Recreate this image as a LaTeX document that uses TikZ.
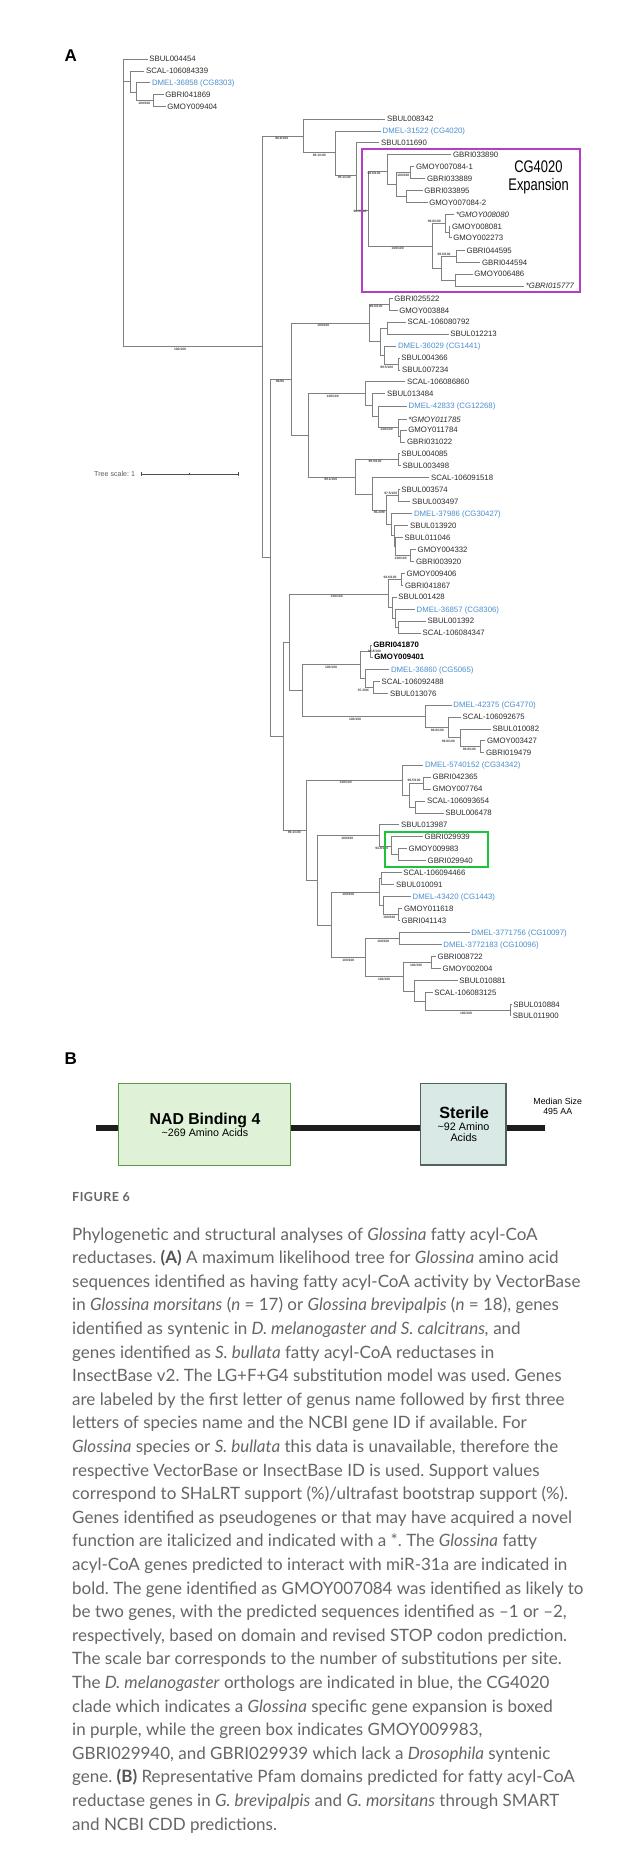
\documentclass[tikz,border=0pt]{standalone}
\usepackage{fontspec}
\setmainfont{Liberation Sans}
\newfontfamily\capfont{Lato}
\newfontfamily\narrowfont{Liberation Sans}[FakeStretch=0.77]
\frenchspacing
\definecolor{brc}{HTML}{808080}
\definecolor{tipc}{HTML}{2B2B2B}
\definecolor{dmel}{HTML}{4A8FCF}
\definecolor{purp}{HTML}{B23FC4}
\definecolor{grn}{HTML}{1DC43A}
\definecolor{capc}{HTML}{666666}
\definecolor{capd}{HTML}{555555}
\definecolor{nadfill}{HTML}{DFF2D7}
\definecolor{nadline}{HTML}{5B9A46}
\definecolor{stfill}{HTML}{D9E9E5}
\definecolor{stline}{HTML}{50645E}
\definecolor{barc}{HTML}{1E1E1E}
\tikzset{
 br/.style={draw=brc, line width=0.75pt},
 tip/.style={anchor=west, inner xsep=1.7pt, inner ysep=0pt, text height=5.6pt, text depth=0pt, font=\fontsize{7.8}{8}\selectfont, text=tipc},
 tipb/.style={tip, text=dmel},
 tipi/.style={tip, font=\fontsize{7.8}{8}\selectfont\itshape},
 tipbf/.style={tip, font=\fontsize{7.8}{8}\selectfont\bfseries, text=black},
 bs/.style={inner sep=0pt, font=\fontsize{3.3}{3.5}\selectfont\bfseries, text=black!75},
 capl/.style={anchor=base west, inner sep=0pt, font=\capfont\fontsize{17}{19}\selectfont\frenchspacing, text=capc},
 panel/.style={anchor=base west, inner sep=0pt, font=\fontsize{17}{18}\selectfont\bfseries, text=black},
 dombox/.style={draw, line width=1.2pt, minimum height=81.6pt, inner sep=0pt},
 domtxt/.style={anchor=base, inner sep=0pt, text=black},
}
\newcommand{\tleaf}[6]{\node[#1] (#2) at (#4,#5) {#6}; \draw[br] (#3) |- (#2.west);}
\newcommand{\tnode}[4]{\coordinate (#1) at (#3,#4); \draw[br] (#2) |- (#1);}
\newcommand{\bsl}[4]{\node[bs] (#1) at (#2,#3) {#4};}
\begin{document}
\begin{tikzpicture}[x=1pt,y=-1pt]
\useasboundingbox (0,0) rectangle (644,1854);
\fill[white] (0,0) rectangle (644,1854);
% ---------- panel A ----------
\node[panel] (pA) at (64.5,61.7) {A};
\coordinate (R) at (123.3,81.7);
\tleaf{tip}{t1}{R}{147.5}{59}{SBUL004454}
\tnode{na}{R}{130.7}{81.7}
\tleaf{tip}{t2}{na}{144.2}{71}{SCAL-106084339}
\tnode{nb}{na}{136}{92.3}
\tleaf{tipb}{t3}{nb}{150.2}{82.7}{DMEL-36858 (CG8303)}
\tnode{nc}{nb}{153.3}{100.5}
\tleaf{tip}{t4}{nc}{163.5}{94.3}{GBRI041869}
\tleaf{tip}{t5}{nc}{165.5}{106.7}{GMOY009404}
\tnode{nd}{R}{262.3}{346.7}
\tnode{ne}{nd}{303.3}{136}
\tleaf{tip}{t6}{ne}{385.2}{119}{SBUL008342}
\tnode{nf}{ne}{335.7}{152.7}
\tleaf{tipb}{t7}{nf}{380.8}{131}{DMEL-31522 (CG4020)}
\tnode{ng}{nf}{356.7}{175.7}
\tleaf{tip}{t8}{ng}{379.2}{142.7}{SBUL011690}
\tnode{E}{ng}{368.3}{210}
\tnode{U}{E}{387.7}{171}
\tleaf{tip}{t9}{U}{451.2}{154.3}{GBRI033890}
\tnode{V}{U}{396.7}{184.3}
\tnode{W}{V}{410}{172.7}
\tleaf{tip}{t10}{W}{414.2}{166.7}{GMOY007084-1}
\tleaf{tip}{t11}{W}{425.2}{178.7}{GBRI033889}
\tnode{X}{V}{406}{196.3}
\tleaf{tip}{t12}{X}{422.5}{190.3}{GBRI033895}
\tleaf{tip}{t13}{X}{427.5}{202.3}{GMOY007084-2}
\tnode{L}{E}{432.7}{246}
\tnode{Y}{L}{445.7}{223.3}
\tleaf{tipi}{t14}{Y}{454.2}{214.3}{*GMOY008080}
\tnode{Yb}{Y}{449}{232}
\tleaf{tip}{t15}{Yb}{450.2}{226.3}{GMOY008081}
\tleaf{tip}{t16}{Yb}{451.5}{237.7}{GMOY002273}
\tnode{Z}{L}{441.7}{268.3}
\tnode{Za}{Z}{456.7}{256.3}
\tleaf{tip}{t17}{Za}{464.8}{250.3}{GBRI044595}
\tleaf{tip}{t18}{Za}{480.2}{262.3}{GBRI044594}
\tnode{Zb}{Z}{455}{280}
\tleaf{tip}{t19}{Zb}{472.5}{274}{GMOY006486}
\tleaf{tipi}{t20}{Zb}{524}{286}{*GBRI015777}
% lower big clade
\tnode{nh}{nd}{270.3}{557.3}
\tnode{ni}{nh}{291.3}{379}
\tnode{C1}{ni}{369}{323.3}
\tnode{n1a}{C1}{389.3}{304.3}
\tleaf{tip}{t21}{n1a}{392.5}{298.3}{GBRI025522}
\tleaf{tip}{t22}{n1a}{397.5}{310.3}{GMOY003884}
\tnode{n1b}{C1}{380}{341.5}
\tnode{n1c}{n1b}{387.3}{328}
\tleaf{tip}{t23}{n1c}{405.8}{322}{SCAL-106080792}
\tleaf{tip}{t24}{n1c}{448.5}{334}{SBUL012213}
\tnode{n1d}{n1b}{384}{355}
\tleaf{tipb}{t25}{n1d}{396.2}{346}{DMEL-36029 (CG1441)}
\tnode{n1e}{n1d}{398.3}{364}
\tleaf{tip}{t26}{n1e}{399.5}{358}{SBUL004366}
\tleaf{tip}{t27}{n1e}{400.2}{370}{SBUL007234}
\tnode{nj}{ni}{308.3}{435}
\tnode{C2}{nj}{365.7}{393.5}
\tleaf{tip}{t28}{C2}{405.2}{381.7}{SCAL-106086860}
\tnode{n2a}{C2}{372.3}{405.3}
\tleaf{tip}{t29}{n2a}{385.2}{393.7}{SBUL013484}
\tnode{n2b}{n2a}{378.3}{416.8}
\tleaf{tipb}{t30}{n2b}{406.8}{406}{DMEL-42833 (CG12268)}
\tnode{n2c}{n2b}{398.3}{427.7}
\tleaf{tipi}{t31}{n2c}{406.5}{419.3}{*GMOY011785}
\tnode{n2d}{n2c}{400.7}{436}
\tleaf{tip}{t32}{n2d}{406.5}{430}{GMOY011784}
\tleaf{tip}{t33}{n2d}{405.2}{442}{GBRI031022}
\tnode{C3}{nj}{355}{477.3}
\tnode{n3a}{C3}{398.3}{459.7}
\tleaf{tip}{t34}{n3a}{399.5}{453.7}{SBUL004085}
\tleaf{tip}{t35}{n3a}{400.8}{465.7}{SBUL003498}
\tnode{n3b}{C3}{372.3}{494.3}
\tleaf{tip}{t36}{n3b}{429.2}{477.3}{SCAL-106091518}
\tnode{n3c}{n3b}{386.7}{510}
\tnode{n3d}{n3c}{398.3}{495.5}
\tleaf{tip}{t37}{n3d}{399.5}{489.3}{SBUL003574}
\tleaf{tip}{t38}{n3d}{410.2}{501.7}{SBUL003497}
\tnode{n3e}{n3c}{391}{524.6}
\tleaf{tipb}{t39}{n3e}{412.2}{513.3}{DMEL-37986 (CG30427)}
\tnode{n3f}{n3e}{394}{535.8}
\tleaf{tip}{t40}{n3f}{408.2}{525.3}{SBUL013920}
\tnode{n3g}{n3f}{395.7}{546.3}
\tleaf{tip}{t41}{n3g}{402.8}{537.3}{SBUL011046}
\tnode{n3h}{n3g}{410}{555.3}
\tleaf{tip}{t42}{n3h}{415.8}{549.3}{GMOY004332}
\tleaf{tip}{t43}{n3h}{414.2}{561.3}{GBRI003920}
\tnode{nk}{nh}{283.3}{736.3}
\tnode{nl}{nk}{289.3}{642.3}
\tnode{n4}{nl}{388.3}{594}
\tnode{n4a}{n4}{401}{579.3}
\tleaf{tip}{t44}{n4a}{404.8}{573.3}{GMOY009406}
\tleaf{tip}{t45}{n4a}{403.2}{585.3}{GBRI041867}
\tnode{n4b}{n4}{392.3}{607.6}
\tleaf{tip}{t46}{n4b}{396.5}{597}{SBUL001428}
\tnode{n4c}{n4b}{395.7}{618.2}
\tleaf{tipb}{t47}{n4c}{414.8}{609.3}{DMEL-36857 (CG8306)}
\tnode{n4d}{n4c}{398.3}{627}
\tleaf{tip}{t48}{n4d}{425.8}{621}{SBUL001392}
\tleaf{tip}{t49}{n4d}{420.8}{633}{SCAL-106084347}
\tnode{nm}{nl}{302.3}{690.7}
\tnode{n5}{nm}{360}{664.7}
\tnode{n5a}{n5}{370.7}{651}
\tleaf{tipbf}{t50}{n5a}{371.5}{645}{GBRI041870}
\tleaf{tipbf}{t51}{n5a}{372.5}{657}{GMOY009401}
\tnode{n5b}{n5}{365.7}{678.3}
\tleaf{tipb}{t52}{n5b}{389.2}{669.3}{DMEL-36860 (CG5065)}
\tnode{n5c}{n5b}{373.3}{687.3}
\tleaf{tip}{t53}{n5c}{379.8}{681.3}{SCAL-106092488}
\tleaf{tip}{t54}{n5c}{388.2}{693.3}{SBUL013076}
\tnode{n6}{nm}{425.7}{716.3}
\tleaf{tipb}{t55}{n6}{451.5}{705}{DMEL-42375 (CG4770)}
\tnode{n6a}{n6}{448.3}{727.4}
\tleaf{tip}{t56}{n6a}{460.8}{717}{SCAL-106092675}
\tnode{n6b}{n6a}{460.7}{737.8}
\tleaf{tip}{t57}{n6b}{490.8}{729}{SBUL010082}
\tnode{n6c}{n6b}{480.7}{746.7}
\tleaf{tip}{t58}{n6c}{485.2}{740.7}{GMOY003427}
\tleaf{tip}{t59}{n6c}{484.2}{752.7}{GBRI019479}
\tnode{nn}{nk}{306}{830}
\tnode{n7}{nn}{402.3}{780.7}
\tleaf{tipb}{t60}{n7}{423.2}{765}{DMEL-5740152 (CG34342)}
\tnode{n7a}{n7}{409.3}{795}
\tnode{n7b}{n7a}{423.3}{783}
\tleaf{tip}{t61}{n7b}{430.8}{777}{GBRI042365}
\tleaf{tip}{t62}{n7b}{430.8}{789}{GMOY007764}
\tnode{n7c}{n7a}{415}{807}
\tleaf{tip}{t63}{n7c}{425.2}{801}{SCAL-106093654}
\tleaf{tip}{t64}{n7c}{443.5}{813}{SBUL006478}
\tnode{no}{nn}{317.7}{880}
\tnode{n8}{no}{379}{835.7}
\tleaf{tip}{t65}{n8}{399.2}{824.7}{SBUL013987}
\tnode{n8a}{n8}{391.7}{846}
\tleaf{tip}{t66}{n8a}{422.8}{836.7}{GBRI029939}
\tnode{n8b}{n8a}{398.3}{854.7}
\tleaf{tip}{t67}{n8b}{406.8}{848.7}{GMOY009983}
\tleaf{tip}{t68}{n8b}{425.8}{860.7}{GBRI029940}
\tnode{np}{no}{331.7}{925}
\tnode{n9}{np}{379}{892.2}
\tnode{n9a}{n9}{381.7}{878.7}
\tleaf{tip}{t69}{n9a}{401.5}{872.7}{SCAL-106094466}
\tleaf{tip}{t70}{n9a}{394.2}{884.7}{SBUL010091}
\tnode{n9b}{n9}{383.3}{905.7}
\tleaf{tipb}{t71}{n9b}{410.8}{896.7}{DMEL-43420 (CG1443)}
\tnode{n9c}{n9b}{398.3}{914.7}
\tleaf{tip}{t72}{n9c}{402.2}{908.7}{GMOY011618}
\tleaf{tip}{t73}{n9c}{399.8}{920.7}{GBRI041143}
\tnode{n10}{np}{365}{957.3}
\tnode{n10a}{n10}{399.3}{938.3}
\tleaf{tipb}{t74}{n10a}{469.5}{932.3}{DMEL-3771756 (CG10097)}
\tleaf{tipb}{t75}{n10a}{441.5}{944.3}{DMEL-3772183 (CG10096)}
\tnode{n11}{n10}{403.3}{976.7}
\tnode{n11a}{n11}{431.7}{962.7}
\tleaf{tip}{t76}{n11a}{435.8}{956.7}{GBRI008722}
\tleaf{tip}{t77}{n11a}{440.8}{968.7}{GMOY002004}
\tnode{n11b}{n11}{414.3}{991}
\tleaf{tip}{t78}{n11b}{457.5}{980.7}{SBUL010881}
\tnode{n11c}{n11b}{425}{1001.5}
\tleaf{tip}{t79}{n11c}{432.5}{992.7}{SCAL-106083125}
\tnode{n11d}{n11c}{510}{1010.2}
\tleaf{tip}{t80}{n11d}{511.5}{1004.7}{SBUL010884}
\tleaf{tip}{t81}{n11d}{511}{1015.7}{SBUL011900}
% support values
\bsl{s1}{144.3}{103.3}{100/100}
\bsl{s2}{281.7}{138.3}{98.6/100}
\bsl{s3}{319.3}{155.3}{98.1/100}
\bsl{s4}{344.3}{177.3}{99.1/100}
\bsl{s5}{360}{211}{96.3/100}
\bsl{s6}{374}{173.5}{99.6/100}
\bsl{s7}{403.3}{175.3}{100/100}
\bsl{s8}{397.7}{248.7}{100/100}
\bsl{s9}{434.3}{221}{99.8/100}
\bsl{s10}{444}{254}{99.8/100}
\bsl{s11}{180}{349.7}{100/100}
\bsl{s12}{280}{381.7}{96/96}
\bsl{s13}{323.3}{325.7}{100/100}
\bsl{s14}{376}{306}{99.8/100}
\bsl{s15}{386.7}{367}{99.5/100}
\bsl{s16}{332.7}{396}{100/100}
\bsl{s17}{386.7}{429}{100/100}
\bsl{s18}{330.7}{479.3}{99.1/100}
\bsl{s19}{375}{461.7}{99.9/100}
\bsl{s20}{379.3}{512.3}{96.2/99}
\bsl{s21}{390.7}{493.7}{97.5/100}
\bsl{s22}{400.7}{558.7}{100/100}
\bsl{s23}{336.7}{596.3}{100/100}
\bsl{s24}{390}{577.3}{94.6/100}
\bsl{s25}{331}{667}{100/100}
\bsl{s26}{374.5}{651}{94.8/100}
\bsl{s27}{363.3}{690}{97.3/94}
\bsl{s28}{355}{719}{100/100}
\bsl{s29}{437.3}{730}{99.8/100}
\bsl{s30}{448.3}{741}{99.6/100}
\bsl{s31}{469.3}{749.3}{99.8/100}
\bsl{s32}{294.3}{832.3}{99.1/100}
\bsl{s33}{345.7}{782.3}{100/100}
\bsl{s34}{414}{780.7}{99.5/100}
\bsl{s35}{347.3}{838.3}{100/100}
\bsl{s36}{381.7}{848.3}{94.9/100}
\bsl{s37}{348.3}{894.3}{100/100}
\bsl{s38}{389.3}{917.3}{100/100}
\bsl{s39}{348.3}{960.7}{100/100}
\bsl{s40}{383.3}{941}{100/100}
\bsl{s41}{384}{979}{100/100}
\bsl{s42}{416}{965}{100/100}
\bsl{s43}{466}{1013.3}{100/100}
% boxes
\coordinate (pb1) at (361.7,149);
\coordinate (pb2) at (580,292.3);
\draw[purp, line width=1.8pt] (pb1) rectangle (pb2);
\node[anchor=base, inner sep=0pt, font=\narrowfont\fontsize{16.8}{18}\selectfont, text=black] (cg1) at (538.4,172.3) {CG4020};
\node[anchor=base, inner sep=0pt, font=\narrowfont\fontsize{16.8}{18}\selectfont, text=black] (cg2) at (538.6,190.7) {Expansion};
\coordinate (gb1) at (385,831.7);
\coordinate (gb2) at (487.7,866.7);
\draw[grn, line width=1.8pt] (gb1) rectangle (gb2);
% tree scale
\node[anchor=west, inner sep=0pt, font=\fontsize{7.1}{8}\selectfont, text=black!65] (ts) at (94,474) {Tree scale: 1};
\coordinate (sb1) at (141,474);
\coordinate (sbm) at (189.7,474);
\coordinate (sb2) at (238.3,474);
\draw[black!70, line width=0.6pt] (sb1) -- (sb2);
\draw[black!70, line width=0.6pt] ([yshift=-1.6pt]sb1) -- ([yshift=1.6pt]sb1);
\draw[black!70, line width=0.6pt] ([yshift=-1.2pt]sbm) -- ([yshift=1.2pt]sbm);
\draw[black!70, line width=0.6pt] ([yshift=-1.6pt]sb2) -- ([yshift=1.6pt]sb2);
% ---------- panel B ----------
\node[panel] (pB) at (64.5,1064) {B};
\coordinate (barL) at (95.7,1128);
\coordinate (barR) at (545,1128);
\draw[barc, line width=6.6pt] (barL) -- (barR);
\node[dombox, draw=nadline, fill=nadfill, minimum width=172pt] (nad) at (204.7,1124.5) {};
\node[dombox, draw=stline, fill=stfill, minimum width=85.7pt] (ster) at (463.2,1124.2) {};
\node[domtxt, font=\fontsize{15.8}{17}\selectfont\bfseries] (nadT) at (205,1124) {NAD Binding 4};
\node[domtxt, font=\fontsize{10.7}{12}\selectfont] (nadS) at (205,1136.7) {\textasciitilde269 Amino Acids};
\node[domtxt, font=\fontsize{16.2}{17}\selectfont\bfseries] (stT) at (464.2,1118.7) {Sterile};
\node[domtxt, font=\fontsize{10.8}{12}\selectfont] (stS) at (463.5,1130.7) {\textasciitilde92 Amino};
\node[domtxt, font=\fontsize{10.8}{12}\selectfont] (stS2) at (463.7,1141.7) {Acids};
\node[domtxt, font=\fontsize{8.8}{10}\selectfont] (med1) at (557.7,1104) {Median Size};
\node[domtxt, font=\fontsize{8.8}{10}\selectfont] (med2) at (557.7,1114.3) {495 AA};
% ---------- caption ----------
\node[anchor=base west, inner sep=0pt, font=\capfont\fontsize{12.5}{14}\selectfont\bfseries\addfontfeature{LetterSpace=4}, text=capc] (fig) at (72,1201) {FIGURE 6};
\node[capl] (c1) at (72,1240.0) {Phylogenetic and structural analyses of \textit{Glossina} fatty acyl-CoA};
\node[capl] (c2) at (72,1263.6) {reductases. \textbf{\color{capd}(A)} A maximum likelihood tree for \textit{Glossina} amino acid};
\node[capl] (c3) at (72,1287.2) {sequences identified as having fatty acyl-CoA activity by VectorBase};
\node[capl] (c4) at (72,1310.8) {in \textit{Glossina morsitans} (\textit{n} = 17) or \textit{Glossina brevipalpis} (\textit{n} = 18), genes};
\node[capl] (c5) at (72,1334.4) {identified as syntenic in \textit{D. melanogaster and S. calcitrans,} and};
\node[capl] (c6) at (72,1358.0) {genes identified as \textit{S. bullata} fatty acyl-CoA reductases in};
\node[capl] (c7) at (72,1381.6) {InsectBase v2. The LG+F+G4 substitution model was used. Genes};
\node[capl] (c8) at (72,1405.2) {are labeled by the first letter of genus name followed by first three};
\node[capl] (c9) at (72,1428.8) {letters of species name and the NCBI gene ID if available. For};
\node[capl] (c10) at (72,1452.4) {\textit{Glossina} species or \textit{S. bullata} this data is unavailable, therefore the};
\node[capl] (c11) at (72,1476.0) {respective VectorBase or InsectBase ID is used. Support values};
\node[capl] (c12) at (72,1499.6) {correspond to SHaLRT support (\%)/ultrafast bootstrap support (\%).};
\node[capl] (c13) at (72,1523.2) {Genes identified as pseudogenes or that may have acquired a novel};
\node[capl] (c14) at (72,1546.8) {function are italicized and indicated with a *. The \textit{Glossina} fatty};
\node[capl] (c15) at (72,1570.4) {acyl-CoA genes predicted to interact with miR-31a are indicated in};
\node[capl] (c16) at (72,1594.0) {bold. The gene identified as GMOY007084 was identified as likely to};
\node[capl] (c17) at (72,1617.6) {be two genes, with the predicted sequences identified as \textendash1 or \textendash2,};
\node[capl] (c18) at (72,1641.2) {respectively, based on domain and revised STOP codon prediction.};
\node[capl] (c19) at (72,1664.8) {The scale bar corresponds to the number of substitutions per site.};
\node[capl] (c20) at (72,1688.4) {The \textit{D. melanogaster} orthologs are indicated in blue, the CG4020};
\node[capl] (c21) at (72,1712.0) {clade which indicates a \textit{Glossina} specific gene expansion is boxed};
\node[capl] (c22) at (72,1735.6) {in purple, while the green box indicates GMOY009983,};
\node[capl] (c23) at (72,1759.2) {GBRI029940, and GBRI029939 which lack a \textit{Drosophila} syntenic};
\node[capl] (c24) at (72,1782.8) {gene. \textbf{\color{capd}(B)} Representative Pfam domains predicted for fatty acyl-CoA};
\node[capl] (c25) at (72,1806.4) {reductase genes in \textit{G. brevipalpis} and \textit{G. morsitans} through SMART};
\node[capl] (c26) at (72,1830.0) {and NCBI CDD predictions.};
\end{tikzpicture}
\end{document}
